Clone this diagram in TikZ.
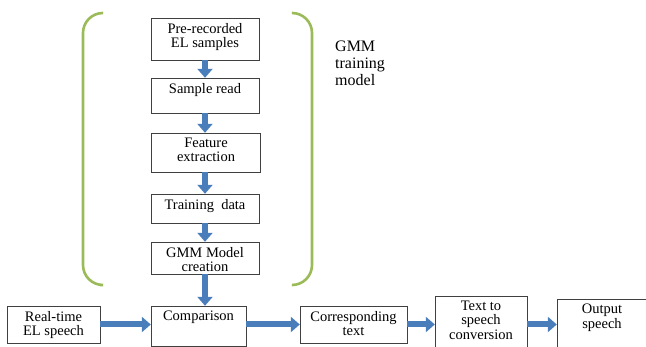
\documentclass[tikz,border=0pt]{standalone}
\usepackage{fontspec}
\setmainfont{Liberation Serif}
\usepackage{tikz}
\usetikzlibrary{arrows.meta,positioning}

\definecolor{flowblue}{HTML}{4A7EBB}
\definecolor{bracegreen}{HTML}{9BBB59}

\begin{document}
\begin{tikzpicture}[x=1pt, y=-1pt,
  box/.style = {draw = black!75, thin, shape = rectangle, inner sep = 0pt},
  boxtext/.style = {anchor = north, align = center, inner sep = 5pt, font = \fontsize{14.5}{14.5}\selectfont},
  flow/.style = {draw = flowblue, line width = 6pt, -{Triangle[length = 9pt, width = 15pt]}},
  brace/.style = {draw = bracegreen, line width = 2.6pt, rounded corners = 20pt}]
\useasboundingbox (0,0) rectangle (646,347);
\clip (0,0) rectangle (646,347);
% training column
\node[box, minimum width = 108pt, minimum height = 42pt, label = {[boxtext]north:{Pre-recorded\\EL samples}}] (pre) at (205,39) {};
\node[box, minimum width = 108pt, minimum height = 35pt, label = {[boxtext]north:{Sample read}}] (read) at (205,95.5) {};
\node[box, minimum width = 109pt, minimum height = 39pt, label = {[boxtext]north:{Feature\\extraction}}] (feat) at (206,152.5) {};
\node[box, minimum width = 108pt, minimum height = 29pt, label = {[boxtext]north:{Training\enspace data}}] (train) at (205,208.5) {};
\node[box, minimum width = 108pt, minimum height = 32pt, label = {[boxtext]north:{GMM Model\\creation}}] (gmm) at (205,258) {};
% bottom row
\node[box, minimum width = 93pt, minimum height = 37pt, label = {[boxtext]north:{Real-time\\EL speech}}] (rt) at (53.5,324.5) {};
\node[box, minimum width = 95pt, minimum height = 40pt, label = {[boxtext]north:{Comparison}}] (comp) at (198.5,326) {};
\node[box, minimum width = 107pt, minimum height = 37pt, label = {[boxtext]north:{Corresponding\\text}}] (corr) at (353.5,324.5) {};
\node[box, minimum width = 92pt, minimum height = 56pt, label = {[boxtext]north:{Text to\\speech\\conversion}}] (tts) at (481,324) {};
\node[box, minimum width = 90pt, minimum height = 52pt, label = {[boxtext]north:{Output\\speech}}] (out) at (602,325) {};
% arrows
\draw[flow] (pre) -- (read);
\draw[flow] (read) -- (feat.north -| read);
\draw[flow] (feat.south -| read) -- (train);
\draw[flow] (train) -- (gmm);
\draw[flow] (gmm) -- (gmm |- comp.north);
\draw[flow] (rt.east) -- (comp.west |- rt.east);
\draw[flow] (comp.east |- rt.east) -- (corr.west);
\draw[flow] (corr.east) -- (tts.west |- corr.east);
\draw[flow] (tts.east |- corr.east) -- (out.west |- corr.east);
% GMM bracket
\draw[brace] (102,13) -- (83,13) -- (83,285) -- (100,285);
\draw[brace] (293,13) -- (312,13) -- (312,285) -- (293,285);
\node[anchor = north west, align = left, inner sep = 0pt, font = \fontsize{16}{17}\selectfont] (gmmlabel) at (335,41) {GMM\\training\\model};
\end{tikzpicture}
\end{document}
